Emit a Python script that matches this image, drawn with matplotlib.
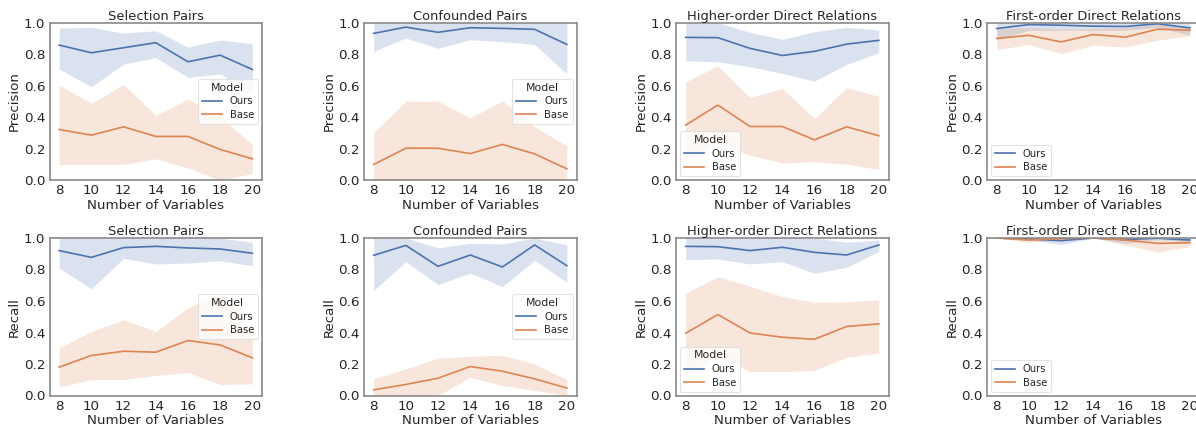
import matplotlib
matplotlib.use("Agg")
import matplotlib.pyplot as plt
import numpy as np

n_vars = [8, 10, 12, 14, 16, 18, 20]
models = ["Ours", "Base"]
titles = ["Selection Pairs", "Confounded Pairs", "Higher-order Direct Relations", "First-order Direct Relations"]
row_metrics = ["Precision", "Recall"]

# Precision: mean, lower, upper for Ours / Base
sel_prec_ours = [0.858, 0.809, 0.841, 0.873, 0.752, 0.794, 0.703]
sel_prec_ours_lo = [0.706, 0.593, 0.737, 0.778, 0.653, 0.674, 0.551]
sel_prec_ours_hi = [0.966, 0.970, 0.934, 0.949, 0.845, 0.890, 0.867]
sel_prec_base = [0.322, 0.286, 0.339, 0.278, 0.278, 0.195, 0.136]
sel_prec_base_lo = [0.100, 0.100, 0.100, 0.136, 0.078, 0.000, 0.042]
sel_prec_base_hi = [0.604, 0.487, 0.608, 0.413, 0.515, 0.400, 0.227]

con_prec_ours = [0.932, 0.972, 0.939, 0.968, 0.964, 0.958, 0.862]
con_prec_ours_lo = [0.818, 0.903, 0.837, 0.892, 0.879, 0.862, 0.674]
con_prec_ours_hi = [1.0, 1.0, 1.0, 1.0, 1.0, 1.0, 1.0]
con_prec_base = [0.100, 0.203, 0.203, 0.169, 0.227, 0.167, 0.072]
con_prec_base_lo = [0.0, 0.0, 0.0, 0.0, 0.0, 0.0, 0.0]
con_prec_base_hi = [0.303, 0.502, 0.502, 0.396, 0.504, 0.340, 0.218]

hi_prec_ours = [0.907, 0.905, 0.837, 0.792, 0.818, 0.864, 0.888]
hi_prec_ours_lo = [0.758, 0.752, 0.720, 0.678, 0.629, 0.735, 0.809]
hi_prec_ours_hi = [1.0, 1.0, 0.939, 0.894, 0.943, 0.970, 0.953]
hi_prec_base = [0.350, 0.477, 0.341, 0.341, 0.256, 0.339, 0.282]
hi_prec_base_lo = [0.117, 0.230, 0.159, 0.110, 0.117, 0.102, 0.068]
hi_prec_base_hi = [0.625, 0.727, 0.525, 0.583, 0.392, 0.587, 0.532]

fo_prec_ours = [0.963, 0.988, 0.984, 0.978, 0.976, 0.993, 0.967]
fo_prec_ours_lo = [0.890, 0.952, 0.952, 0.952, 0.952, 0.970, 0.920]
fo_prec_ours_hi = [1.0, 1.0, 1.0, 1.0, 1.0, 1.0, 1.0]
fo_prec_base = [0.900, 0.920, 0.878, 0.925, 0.908, 0.959, 0.952]
fo_prec_base_lo = [0.829, 0.861, 0.804, 0.857, 0.846, 0.889, 0.916]
fo_prec_base_hi = [0.963, 0.970, 0.960, 0.963, 0.970, 0.990, 0.970]

# Recall
sel_rec_ours = [0.920, 0.877, 0.939, 0.947, 0.937, 0.930, 0.903]
sel_rec_ours_lo = [0.810, 0.677, 0.871, 0.835, 0.841, 0.856, 0.824]
sel_rec_ours_hi = [1.0, 1.0, 1.0, 1.0, 1.0, 1.0, 0.973]
sel_rec_base = [0.180, 0.254, 0.281, 0.275, 0.349, 0.321, 0.239]
sel_rec_base_lo = [0.053, 0.101, 0.101, 0.127, 0.146, 0.070, 0.074]
sel_rec_base_hi = [0.302, 0.406, 0.480, 0.406, 0.556, 0.650, 0.420]

con_rec_ours = [0.890, 0.953, 0.820, 0.892, 0.816, 0.956, 0.824]
con_rec_ours_lo = [0.666, 0.850, 0.704, 0.778, 0.691, 0.858, 0.719]
con_rec_ours_hi = [1.0, 1.0, 0.937, 0.966, 0.962, 1.0, 0.956]
con_rec_base = [0.036, 0.070, 0.110, 0.184, 0.154, 0.106, 0.047]
con_rec_base_lo = [0.0, 0.0, 0.0, 0.116, 0.063, 0.032, 0.0]
con_rec_base_hi = [0.106, 0.169, 0.237, 0.249, 0.256, 0.200, 0.101]

hi_rec_ours = [0.947, 0.945, 0.920, 0.941, 0.909, 0.892, 0.956]
hi_rec_ours_lo = [0.863, 0.867, 0.835, 0.850, 0.776, 0.814, 0.915]
hi_rec_ours_hi = [1.0, 1.0, 1.0, 1.0, 1.0, 0.973, 0.987]
hi_rec_base = [0.395, 0.514, 0.397, 0.370, 0.357, 0.438, 0.455]
hi_rec_base_lo = [0.127, 0.254, 0.152, 0.152, 0.159, 0.243, 0.268]
hi_rec_base_hi = [0.651, 0.755, 0.693, 0.628, 0.592, 0.596, 0.607]

fo_rec_ours = [1.0, 0.994, 0.983, 1.0, 0.990, 0.998, 0.987]
fo_rec_ours_lo = [1.0, 0.990, 0.958, 1.0, 0.966, 0.990, 0.975]
fo_rec_ours_hi = [1.0, 1.0, 1.0, 1.0, 1.0, 1.0, 1.0]
fo_rec_base = [1.0, 0.987, 0.996, 1.0, 0.987, 0.966, 0.970]
fo_rec_base_lo = [1.0, 0.972, 0.990, 1.0, 0.955, 0.911, 0.945]
fo_rec_base_hi = [1.0, 1.0, 1.0, 1.0, 1.0, 0.990, 0.990]

panels = [
    [
        ((sel_prec_ours, sel_prec_ours_lo, sel_prec_ours_hi), (sel_prec_base, sel_prec_base_lo, sel_prec_base_hi)),
        ((con_prec_ours, con_prec_ours_lo, con_prec_ours_hi), (con_prec_base, con_prec_base_lo, con_prec_base_hi)),
        ((hi_prec_ours, hi_prec_ours_lo, hi_prec_ours_hi), (hi_prec_base, hi_prec_base_lo, hi_prec_base_hi)),
        ((fo_prec_ours, fo_prec_ours_lo, fo_prec_ours_hi), (fo_prec_base, fo_prec_base_lo, fo_prec_base_hi)),
    ],
    [
        ((sel_rec_ours, sel_rec_ours_lo, sel_rec_ours_hi), (sel_rec_base, sel_rec_base_lo, sel_rec_base_hi)),
        ((con_rec_ours, con_rec_ours_lo, con_rec_ours_hi), (con_rec_base, con_rec_base_lo, con_rec_base_hi)),
        ((hi_rec_ours, hi_rec_ours_lo, hi_rec_ours_hi), (hi_rec_base, hi_rec_base_lo, hi_rec_base_hi)),
        ((fo_rec_ours, fo_rec_ours_lo, fo_rec_ours_hi), (fo_rec_base, fo_rec_base_lo, fo_rec_base_hi)),
    ],
]

legend_locs = ["center right", "center right", "lower left", "lower left"]
legend_titles = ["Model", "Model", "Model", None]
colors = ["#4c72b0", "#dd8452"]

plt.rcParams["font.family"] = ["DejaVu Sans"]
plt.rcParams["text.color"] = "#262626"
plt.rcParams["axes.labelcolor"] = "#262626"
plt.rcParams["xtick.color"] = "#262626"
plt.rcParams["ytick.color"] = "#262626"

fig = plt.figure(figsize=(11.96, 4.28), dpi=100)

col_left = [49.5, 364, 676, 987]
row_top = [22.7, 238]
ax_w = 212.5
ax_h = 157.5
W, H = 1196, 428

for r in range(2):
    for c in range(4):
        ax = fig.add_axes([col_left[c] / W, 1 - (row_top[r] + ax_h) / H, ax_w / W, ax_h / H])
        for m, (mean, lo, hi) in enumerate(panels[r][c]):
            ax.plot(n_vars, mean, color=colors[m], lw=1.2, label=models[m])
            ax.fill_between(n_vars, lo, hi, color=colors[m], alpha=0.2, linewidth=0)
        ax.set_ylim(0, 1)
        ax.set_xticks(n_vars)
        ax.set_yticks([0.0, 0.2, 0.4, 0.6, 0.8, 1.0])
        ax.set_yticklabels(["0.0", "0.2", "0.4", "0.6", "0.8", "1.0"])
        ax.tick_params(axis="both", length=0, labelsize=9.7, pad=3)
        for s in ax.spines.values():
            s.set_color("#8a8a8a")
            s.set_linewidth(1.2)
        ax.set_title(titles[c], fontsize=9.4, pad=2)
        ax.set_xlabel("Number of Variables", fontsize=9.6, labelpad=1)
        ax.set_ylabel(row_metrics[r], fontsize=9.6, labelpad=2)
        leg = ax.legend(loc=legend_locs[c], title=legend_titles[c], fontsize=7.2,
                        title_fontsize=7.8, frameon=True, handlelength=2.0,
                        borderpad=0.4, labelspacing=0.35, handletextpad=0.8, borderaxespad=0.4)
        leg.get_frame().set_edgecolor("#dddddd")
        leg.get_frame().set_linewidth(0.8)

fig.savefig("out.png", dpi=100)
